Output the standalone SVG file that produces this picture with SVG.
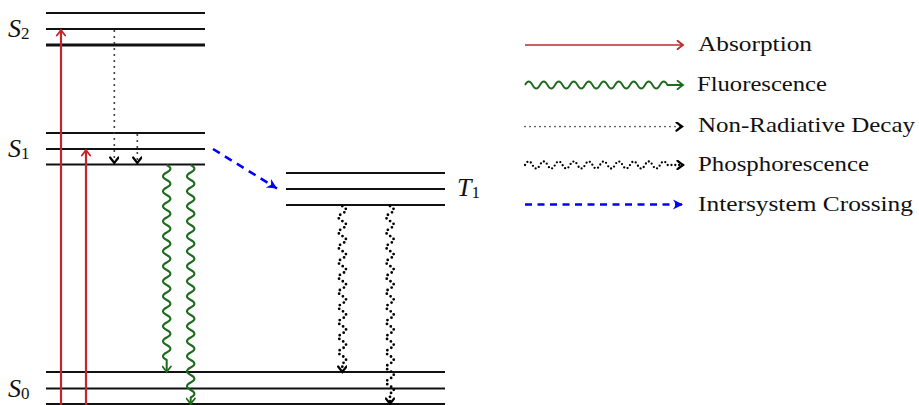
<svg xmlns="http://www.w3.org/2000/svg" width="919" height="405" viewBox="0 0 919 405">
<style>
.lvl{stroke:#111;stroke-width:2;fill:none}
.lvlb{stroke:#111;stroke-width:3;fill:none}
.abs{stroke:#c0272d;stroke-width:2.2;fill:none}
.flu{stroke:#1d6b1d;stroke-width:2;fill:none}
.nrd{stroke:#333;stroke-width:2;fill:none;stroke-dasharray:0 6;stroke-linecap:round}
.pho{stroke:#000;stroke-width:2.8;fill:none;stroke-dasharray:0 4.4;stroke-linecap:round}
.isc{stroke:#0000ff;stroke-width:2.6;fill:none;stroke-dasharray:8 6}
.lab{font-family:"Liberation Serif","DejaVu Serif",serif;font-size:26px;font-style:italic;fill:#111}
.sub{font-size:17px;font-style:normal}
.leg{font-family:"Liberation Serif","DejaVu Serif",serif;font-size:21px;fill:#111}
</style>
<defs>
<marker id="mRed" viewBox="-7 -5 9 10" refX="0" refY="0" markerWidth="9" markerHeight="10" orient="auto" markerUnits="userSpaceOnUse"><path d="M-5.5,-4.2 Q-1.5,-1 0,0 Q-1.5,1 -5.5,4.2" fill="none" stroke="#c0272d" stroke-width="1.8" stroke-linecap="round"/></marker>
<marker id="mGreen" viewBox="-7 -5 9 10" refX="0" refY="0" markerWidth="9" markerHeight="10" orient="auto" markerUnits="userSpaceOnUse"><path d="M-5.5,-4.2 Q-1.5,-1 0,0 Q-1.5,1 -5.5,4.2" fill="none" stroke="#1d6b1d" stroke-width="1.8" stroke-linecap="round"/></marker>
<marker id="mBlack" viewBox="-7 -5 9 10" refX="0" refY="0" markerWidth="9" markerHeight="10" orient="auto" markerUnits="userSpaceOnUse"><path d="M-5.5,-4.2 Q-1.5,-1 0,0 Q-1.5,1 -5.5,4.2" fill="none" stroke="#000" stroke-width="2.2" stroke-linecap="round"/></marker>
<marker id="mBlue" viewBox="-11 -6 12 12" refX="0" refY="0" markerWidth="12" markerHeight="12" orient="auto" markerUnits="userSpaceOnUse"><path d="M0,0 L-10,-5 L-7,0 L-10,5 Z" fill="#0000ff"/></marker>
</defs>

<g id="S2">
<line class="lvl" x1="46" y1="13" x2="205" y2="13"/>
<line class="lvl" x1="46" y1="29" x2="205" y2="29"/>
<line class="lvlb" x1="46" y1="45" x2="205" y2="45"/>
<text class="lab" x="8" y="37">S<tspan class="sub" dy="2">2</tspan></text>
</g>
<g id="S1">
<line class="lvl" x1="46" y1="133" x2="205" y2="133"/>
<line class="lvl" x1="46" y1="149" x2="205" y2="149"/>
<line class="lvl" x1="46" y1="164.5" x2="205" y2="164.5"/>
<text class="lab" x="8" y="157">S<tspan class="sub" dy="2">1</tspan></text>
</g>
<g id="T1">
<line class="lvl" x1="286" y1="173" x2="445" y2="173"/>
<line class="lvl" x1="286" y1="189" x2="445" y2="189"/>
<line class="lvl" x1="286" y1="205" x2="445" y2="205"/>
<text class="lab" x="457" y="196">T<tspan class="sub" dy="2">1</tspan></text>
</g>
<g id="S0">
<line class="lvl" x1="46" y1="372" x2="445" y2="372"/>
<line class="lvl" x1="46" y1="388.5" x2="445" y2="388.5"/>
<line class="lvl" x1="46" y1="404" x2="445" y2="404"/>
<text class="lab" x="8" y="397">S<tspan class="sub" dy="2">0</tspan></text>
</g>

<g id="connectors">
<line class="abs" x1="61" y1="405" x2="61" y2="30" marker-end="url(#mRed)"/>
<line class="abs" x1="86" y1="405" x2="86" y2="150" marker-end="url(#mRed)"/>
<line class="nrd" x1="114.3" y1="31" x2="114.3" y2="163" marker-end="url(#mBlack)"/>
<line class="nrd" x1="137.3" y1="135" x2="137.3" y2="163" marker-end="url(#mBlack)"/>
<path class="flu" marker-end="url(#mGreen)" d="M166.7,165 q7.5,3.75 0,7.5 t0,7.5 t0,7.5 t0,7.5 t0,7.5 t0,7.5 t0,7.5 t0,7.5 t0,7.5 t0,7.5 t0,7.5 t0,7.5 t0,7.5 t0,7.5 t0,7.5 t0,7.5 t0,7.5 t0,7.5 t0,7.5 t0,7.5 t0,7.5 t0,7.5 t0,7.5 t0,7.5 t0,7.5 t0,7.5 L166.7,372"/>
<path class="flu" marker-end="url(#mGreen)" d="M190.7,165 q7.5,3.75 0,7.5 t0,7.5 t0,7.5 t0,7.5 t0,7.5 t0,7.5 t0,7.5 t0,7.5 t0,7.5 t0,7.5 t0,7.5 t0,7.5 t0,7.5 t0,7.5 t0,7.5 t0,7.5 t0,7.5 t0,7.5 t0,7.5 t0,7.5 t0,7.5 t0,7.5 t0,7.5 t0,7.5 t0,7.5 t0,7.5 t0,7.5 t0,7.5 t0,7.5 t0,7.5 t0,7.5 L190.7,404"/>
<line class="isc" x1="213" y1="149" x2="277" y2="188.5" marker-end="url(#mBlue)"/>
<path class="pho" marker-end="url(#mBlack)" d="M342.3,206 q7.5,3.75 0,7.5 t0,7.5 t0,7.5 t0,7.5 t0,7.5 t0,7.5 t0,7.5 t0,7.5 t0,7.5 t0,7.5 t0,7.5 t0,7.5 t0,7.5 t0,7.5 t0,7.5 t0,7.5 t0,7.5 t0,7.5 t0,7.5 t0,7.5 t0,7.5 L342.3,372"/>
<path class="pho" marker-end="url(#mBlack)" d="M390,206 q7.5,3.75 0,7.5 t0,7.5 t0,7.5 t0,7.5 t0,7.5 t0,7.5 t0,7.5 t0,7.5 t0,7.5 t0,7.5 t0,7.5 t0,7.5 t0,7.5 t0,7.5 t0,7.5 t0,7.5 t0,7.5 t0,7.5 t0,7.5 t0,7.5 t0,7.5 t0,7.5 t0,7.5 t0,7.5 t0,7.5 L390,404"/>
</g>

<g id="legend">
<line class="abs" style="stroke-width:1.6" x1="525" y1="45" x2="683" y2="45" marker-end="url(#mRed)"/>
<text class="leg" x="698" y="51" textLength="114" lengthAdjust="spacingAndGlyphs">Absorption</text>
<path class="flu" style="stroke-width:1.8" marker-end="url(#mGreen)" d="M525,85 q3.75,-7 7.5,0 t7.5,0 t7.5,0 t7.5,0 t7.5,0 t7.5,0 t7.5,0 t7.5,0 t7.5,0 t7.5,0 t7.5,0 t7.5,0 t7.5,0 t7.5,0 t7.5,0 t7.5,0 t7.5,0 t7.5,0 t7.5,0 L683,85"/>
<text class="leg" x="697" y="91" textLength="130" lengthAdjust="spacingAndGlyphs">Fluorescence</text>
<line class="nrd" style="stroke-width:1.7;stroke-dasharray:0 5" x1="525" y1="126.5" x2="682" y2="126.5" marker-end="url(#mBlack)"/>
<text class="leg" x="698" y="132" textLength="217" lengthAdjust="spacingAndGlyphs">Non-Radiative Decay</text>
<path class="pho" style="stroke-width:2.3;stroke-dasharray:0 3.8" marker-end="url(#mBlack)" d="M525,165 q3.75,-7 7.5,0 t7.5,0 t7.5,0 t7.5,0 t7.5,0 t7.5,0 t7.5,0 t7.5,0 t7.5,0 t7.5,0 t7.5,0 t7.5,0 t7.5,0 t7.5,0 t7.5,0 t7.5,0 t7.5,0 t7.5,0 t7.5,0 L683,165"/>
<text class="leg" x="698" y="171" textLength="171" lengthAdjust="spacingAndGlyphs">Phosphorescence</text>
<line class="isc" style="stroke-width:2.4;stroke-dasharray:7 5.5" x1="525" y1="204.5" x2="683" y2="204.5" marker-end="url(#mBlue)"/>
<text class="leg" x="698" y="211" textLength="215" lengthAdjust="spacingAndGlyphs">Intersystem Crossing</text>
</g>
</svg>
